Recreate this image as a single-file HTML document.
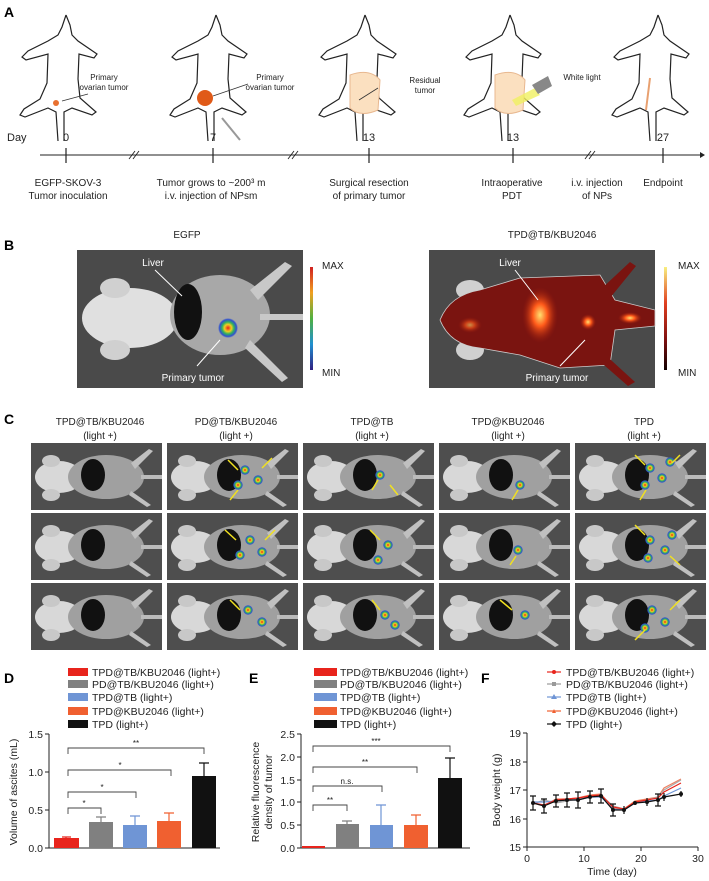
<!DOCTYPE html>
<html><head><meta charset="utf-8"><style>
html,body{margin:0;padding:0;background:#fff;}
svg{display:block;font-family:"Liberation Sans",Arial,sans-serif;}
</style></head><body>
<svg width="709" height="881" viewBox="0 0 709 881" xmlns="http://www.w3.org/2000/svg">
<defs>
<g id="mo" fill="none" stroke="#222" stroke-width="1.2">
<path d="M48 2 L44 14 L40 22 L30 28 L10 38 L4 44 L8 47 L30 41 L29 70 L22 86 L6 96 L2 102 L7 104 L30 95 L38 99 L40 128 M46 128 L46 99 L54 95 L74 102 L78 99 L62 85 L60 66 L61 41 L76 45 L79 41 L60 28 L54 22 L52 12 L48 2"/>
</g>
<radialGradient id="hot" cx="50%" cy="50%" r="50%"><stop offset="0" stop-color="#ffe070"/><stop offset="0.4" stop-color="#ff5a1a"/><stop offset="1" stop-color="#9a1a0c" stop-opacity="0"/></radialGradient>
<radialGradient id="tum" cx="50%" cy="50%" r="50%"><stop offset="0" stop-color="#e8201a"/><stop offset="0.35" stop-color="#f0d020"/><stop offset="0.6" stop-color="#30b060"/><stop offset="0.85" stop-color="#3050d0"/><stop offset="1" stop-color="#3050d0" stop-opacity="0"/></radialGradient>
<linearGradient id="cb1" x1="0" y1="0" x2="0" y2="1"><stop offset="0" stop-color="#d02020"/><stop offset="0.25" stop-color="#f0a020"/><stop offset="0.5" stop-color="#50b040"/><stop offset="0.75" stop-color="#2090d0"/><stop offset="1" stop-color="#302080"/></linearGradient>
<linearGradient id="cb2" x1="0" y1="0" x2="0" y2="1"><stop offset="0" stop-color="#f8f080"/><stop offset="0.35" stop-color="#e04020"/><stop offset="0.7" stop-color="#801010"/><stop offset="1" stop-color="#100000"/></linearGradient>
<g id="cm">
<rect x="0" y="0" width="131" height="67" fill="#4e4e4e"/>
<ellipse cx="28" cy="34" rx="24" ry="16" fill="#d8d8d8"/>
<ellipse cx="20" cy="18" rx="9" ry="6" fill="#c8c8c8"/>
<ellipse cx="20" cy="52" rx="9" ry="6" fill="#c8c8c8"/>
<ellipse cx="75" cy="34" rx="38" ry="22" fill="#a0a0a0"/>
<ellipse cx="62" cy="32" rx="12" ry="16" fill="#111"/>
<path d="M100 20 L118 6 L122 8 L104 26 Z M100 48 L120 62 L116 64 L98 52 Z" fill="#c0c0c0"/>
<rect x="110" y="32" width="21" height="4" fill="#bbb"/>
</g>
<g id="bl"><circle r="5" fill="url(#tum)"/></g>
</defs>

<!-- Panel A -->
<text x="4" y="17" font-size="14" font-weight="bold">A</text>
<use href="#mo" x="18" y="13"/>
<use href="#mo" x="168" y="13"/>
<use href="#mo" x="317" y="13"/>
<use href="#mo" x="462" y="13"/>
<use href="#mo" x="610" y="13"/>
<circle cx="56" cy="103" r="3" fill="#e87030"/>
<circle cx="205" cy="98" r="8" fill="#e05a18"/>
<path d="M350 75 Q370 68 380 80 L378 110 Q360 118 350 108 Z" fill="#fbe0c0" stroke="#e8b890"/>
<path d="M495 75 Q515 68 525 80 L523 110 Q505 118 495 108 Z" fill="#fbe0c0" stroke="#e8b890"/>
<path d="M512 100 L535 88 L540 95 L516 106 Z" fill="#f0f060" opacity="0.8"/>
<path d="M532 85 L548 76 L552 86 L538 94 Z" fill="#888"/>
<line x1="650" y1="78" x2="646" y2="110" stroke="#e8a070" stroke-width="2"/>
<line x1="62" y1="101" x2="88" y2="94" stroke="#333" stroke-width="0.8"/>
<line x1="213" y1="96" x2="248" y2="84" stroke="#333" stroke-width="0.8"/>
<line x1="359" y1="100" x2="378" y2="88" stroke="#333" stroke-width="0.8"/>
<path d="M222 118 L240 140" stroke="#999" stroke-width="2"/>
<g font-size="8" text-anchor="middle" fill="#222">
<text x="104" y="80">Primary</text><text x="104" y="90">ovarian tumor</text>
<text x="270" y="80">Primary</text><text x="270" y="90">ovarian tumor</text>
<text x="425" y="83">Residual</text><text x="425" y="93">tumor</text>
<text x="582" y="80">White light</text>
</g>
<g font-size="11" fill="#222">
<text x="7" y="141">Day</text>
<g text-anchor="middle"><text x="66" y="141">0</text><text x="213" y="141">7</text><text x="369" y="141">13</text><text x="513" y="141">13</text><text x="663" y="141">27</text></g>
</g>
<line x1="40" y1="155" x2="700" y2="155" stroke="#222" stroke-width="1"/>
<path d="M700 152 L705 155 L700 158 Z" fill="#222"/>
<g stroke="#222" stroke-width="1.2">
<line x1="66" y1="148" x2="66" y2="163"/><line x1="213" y1="148" x2="213" y2="163"/><line x1="369" y1="148" x2="369" y2="163"/><line x1="513" y1="148" x2="513" y2="163"/><line x1="663" y1="148" x2="663" y2="163"/>
<path d="M129 159 L135 151 M133 159 L139 151 M288 159 L294 151 M292 159 L298 151 M585 159 L591 151 M589 159 L595 151" stroke-width="0.9"/>
</g>
<g font-size="10" text-anchor="middle" fill="#222">
<text x="68" y="186">EGFP-SKOV-3</text><text x="68" y="199">Tumor inoculation</text>
<text x="211" y="186">Tumor grows to ~200³ m</text><text x="211" y="199">i.v. injection of NPsm</text>
<text x="369" y="186">Surgical resection</text><text x="369" y="199">of primary tumor</text>
<text x="512" y="186">Intraoperative</text><text x="512" y="199">PDT</text>
<text x="597" y="186">i.v. injection</text><text x="597" y="199">of NPs</text>
<text x="663" y="186">Endpoint</text>
</g>

<!-- Panel B -->
<text x="4" y="250" font-size="14" font-weight="bold">B</text>
<g font-size="10" text-anchor="middle" fill="#222"><text x="187" y="238">EGFP</text><text x="552" y="238">TPD@TB/KBU2046</text></g>
<rect x="77" y="250" width="226" height="138" fill="#4a4a4a"/>
<ellipse cx="130" cy="318" rx="48" ry="30" fill="#e0e0e0"/>
<ellipse cx="115" cy="288" rx="15" ry="10" fill="#d0d0d0"/>
<ellipse cx="115" cy="350" rx="15" ry="10" fill="#d0d0d0"/>
<ellipse cx="220" cy="315" rx="50" ry="40" fill="#a8a8a8"/>
<ellipse cx="188" cy="312" rx="14" ry="28" fill="#111"/>
<path d="M250 290 L285 262 L292 266 L258 300 Z M250 340 L288 378 L282 382 L245 348 Z" fill="#c8c8c8"/>
<rect x="260" y="314" width="43" height="6" fill="#c8c8c8"/>
<circle cx="228" cy="328" r="10" fill="url(#tum)"/>
<line x1="155" y1="270" x2="182" y2="296" stroke="#fff" stroke-width="1"/>
<line x1="197" y1="366" x2="220" y2="340" stroke="#fff" stroke-width="1"/>
<g font-size="10" fill="#fff" text-anchor="middle"><text x="153" y="266">Liver</text><text x="193" y="381">Primary tumor</text></g>
<rect x="310" y="267" width="3" height="103" fill="url(#cb1)"/>
<g font-size="10" fill="#222"><text x="322" y="269">MAX</text><text x="322" y="376">MIN</text><text x="678" y="269">MAX</text><text x="678" y="376">MIN</text></g>
<rect x="429" y="250" width="226" height="138" fill="#4a4a4a"/>
<ellipse cx="470" cy="290" rx="14" ry="10" fill="#d0d0d0"/>
<ellipse cx="470" cy="350" rx="14" ry="10" fill="#d0d0d0"/>
<path d="M440 320 Q450 295 480 290 L520 278 L600 275 L615 300 L655 310 L655 326 L615 330 L610 365 L560 368 L520 355 L480 348 Q450 345 440 320 Z" fill="#7a1410" stroke="#ccc" stroke-width="0.8"/>
<path d="M600 290 L630 262 L636 266 L610 298 Z M600 350 L635 382 L628 386 L596 358 Z" fill="#7a1410"/>
<ellipse cx="540" cy="315" rx="18" ry="28" fill="url(#hot)"/>
<ellipse cx="588" cy="322" rx="8" ry="8" fill="url(#hot)"/>
<ellipse cx="630" cy="318" rx="12" ry="6" fill="url(#hot)"/>
<ellipse cx="470" cy="325" rx="12" ry="8" fill="url(#hot)" opacity="0.6"/>
<line x1="515" y1="270" x2="538" y2="300" stroke="#fff" stroke-width="1"/>
<line x1="560" y1="366" x2="585" y2="340" stroke="#fff" stroke-width="1"/>
<g font-size="10" fill="#fff" text-anchor="middle"><text x="510" y="266">Liver</text><text x="557" y="381">Primary tumor</text></g>
<rect x="664" y="267" width="3" height="103" fill="url(#cb2)"/>

<!-- Panel C -->
<text x="4" y="424" font-size="14" font-weight="bold">C</text>
<g font-size="10" text-anchor="middle" fill="#222">
<text x="100" y="425">TPD@TB/KBU2046</text><text x="100" y="439">(light +)</text>
<text x="236" y="425">PD@TB/KBU2046</text><text x="236" y="439">(light +)</text>
<text x="372" y="425">TPD@TB</text><text x="372" y="439">(light +)</text>
<text x="508" y="425">TPD@KBU2046</text><text x="508" y="439">(light +)</text>
<text x="644" y="425">TPD</text><text x="644" y="439">(light +)</text>
</g>
<g>
<use href="#cm" x="31" y="443"/><use href="#cm" x="167" y="443"/><use href="#cm" x="303" y="443"/><use href="#cm" x="439" y="443"/><use href="#cm" x="575" y="443"/>
<use href="#cm" x="31" y="513"/><use href="#cm" x="167" y="513"/><use href="#cm" x="303" y="513"/><use href="#cm" x="439" y="513"/><use href="#cm" x="575" y="513"/>
<use href="#cm" x="31" y="583"/><use href="#cm" x="167" y="583"/><use href="#cm" x="303" y="583"/><use href="#cm" x="439" y="583"/><use href="#cm" x="575" y="583"/>
</g>
<g>
<use href="#bl" x="245" y="470"/><use href="#bl" x="258" y="480"/><use href="#bl" x="238" y="485"/>
<use href="#bl" x="250" y="540"/><use href="#bl" x="262" y="552"/><use href="#bl" x="240" y="555"/>
<use href="#bl" x="248" y="610"/><use href="#bl" x="262" y="622"/>
<use href="#bl" x="380" y="475"/><use href="#bl" x="388" y="545"/><use href="#bl" x="378" y="560"/><use href="#bl" x="385" y="615"/><use href="#bl" x="395" y="625"/>
<use href="#bl" x="520" y="485"/><use href="#bl" x="518" y="550"/><use href="#bl" x="525" y="615"/>
<use href="#bl" x="650" y="468"/><use href="#bl" x="662" y="478"/><use href="#bl" x="645" y="485"/><use href="#bl" x="670" y="462"/>
<use href="#bl" x="650" y="540"/><use href="#bl" x="665" y="550"/><use href="#bl" x="648" y="558"/><use href="#bl" x="672" y="535"/>
<use href="#bl" x="652" y="610"/><use href="#bl" x="665" y="622"/><use href="#bl" x="645" y="628"/>
</g>
<g stroke="#f0e020" stroke-width="1.5">
<path d="M228 460 L238 470 M272 458 L262 468 M230 500 L238 490 M372 490 L378 480 M398 495 L390 485 M512 500 L518 490 M635 455 L645 465 M680 455 L672 463 M640 500 L646 490 M225 530 L236 540 M275 530 L265 540 M370 530 L380 540 M510 565 L516 556 M635 525 L645 535 M680 565 L670 556 M230 600 L240 610 M372 600 L380 610 M500 600 L512 610 M635 640 L645 630 M680 600 L670 610"/>
</g>

<!-- Panel D -->
<text x="4" y="683" font-size="14" font-weight="bold">D</text>
<g font-size="10.5" fill="#222">
<rect x="68" y="668" width="20" height="8" fill="#e8241c"/><text x="92" y="676">TPD@TB/KBU2046 (light+)</text>
<rect x="68" y="680" width="20" height="8" fill="#808080"/><text x="92" y="688">PD@TB/KBU2046 (light+)</text>
<rect x="68" y="693" width="20" height="8" fill="#6f95d5"/><text x="92" y="701">TPD@TB (light+)</text>
<rect x="68" y="707" width="20" height="8" fill="#f06030"/><text x="92" y="715">TPD@KBU2046 (light+)</text>
<rect x="68" y="720" width="20" height="8" fill="#111"/><text x="92" y="728">TPD (light+)</text>
</g>
<g stroke="#222" stroke-width="1" fill="none">
<path d="M49 734 L49 848 L220 848 M45 734 L49 734 M45 772 L49 772 M45 810 L49 810 M45 848 L49 848"/>
</g>
<g font-size="10.5" fill="#222" text-anchor="end"><text x="43" y="738">1.5</text><text x="43" y="776">1.0</text><text x="43" y="814">0.5</text><text x="43" y="852">0.0</text></g>
<text transform="translate(17,792) rotate(-90)" font-size="10.5" text-anchor="middle" fill="#222">Volume of ascites (mL)</text>
<rect x="54" y="838" width="25" height="10" fill="#e8241c"/>
<rect x="89" y="822" width="24" height="26" fill="#808080"/>
<rect x="123" y="825" width="24" height="23" fill="#6f95d5"/>
<rect x="157" y="821" width="24" height="27" fill="#f06030"/>
<rect x="192" y="776" width="24" height="72" fill="#111"/>
<g stroke-width="1.2" fill="none">
<path d="M66 838 V837 M62 837 H71" stroke="#e8241c"/>
<path d="M101 822 V817 M96 817 H106" stroke="#808080"/>
<path d="M135 825 V816 M130 816 H140" stroke="#6f95d5"/>
<path d="M169 821 V813 M164 813 H174" stroke="#f06030"/>
<path d="M204 776 V763 M199 763 H209" stroke="#111"/>
</g>
<g stroke="#444" stroke-width="0.9" fill="none">
<path d="M68 754 V748 H204 V754"/><path d="M68 776 V770 H171 V776"/><path d="M68 798 V792 H136 V798"/><path d="M68 814 V808 H101 V814"/>
</g>
<g font-size="8" fill="#222" text-anchor="middle"><text x="136" y="746">**</text><text x="120" y="768">*</text><text x="102" y="790">*</text><text x="84" y="806">*</text></g>

<!-- Panel E -->
<text x="249" y="683" font-size="14" font-weight="bold">E</text>
<g font-size="10.5" fill="#222">
<rect x="314" y="668" width="23" height="8" fill="#e8241c"/><text x="340" y="676">TPD@TB/KBU2046 (light+)</text>
<rect x="314" y="680" width="23" height="8" fill="#808080"/><text x="340" y="688">PD@TB/KBU2046 (light+)</text>
<rect x="314" y="693" width="23" height="8" fill="#6f95d5"/><text x="340" y="701">TPD@TB (light+)</text>
<rect x="314" y="707" width="23" height="8" fill="#f06030"/><text x="340" y="715">TPD@KBU2046 (light+)</text>
<rect x="314" y="720" width="23" height="8" fill="#111"/><text x="340" y="728">TPD (light+)</text>
</g>
<g stroke="#222" stroke-width="1" fill="none">
<path d="M301 734 L301 848 L470 848 M297 734 L301 734 M297 757 L301 757 M297 780 L301 780 M297 802 L301 802 M297 825 L301 825 M297 848 L301 848"/>
</g>
<g font-size="10.5" fill="#222" text-anchor="end"><text x="295" y="738">2.5</text><text x="295" y="761">2.0</text><text x="295" y="784">1.5</text><text x="295" y="806">1.0</text><text x="295" y="829">0.5</text><text x="295" y="852">0.0</text></g>
<text transform="translate(259,792) rotate(-90)" font-size="10.5" text-anchor="middle" fill="#222">Relative fluorescence</text>
<text transform="translate(272,792) rotate(-90)" font-size="10.5" text-anchor="middle" fill="#222">density of tumor</text>
<rect x="302" y="846" width="23" height="2" fill="#e8241c"/>
<rect x="336" y="824" width="23" height="24" fill="#808080"/>
<rect x="370" y="825" width="23" height="23" fill="#6f95d5"/>
<rect x="404" y="825" width="24" height="23" fill="#f06030"/>
<rect x="438" y="778" width="24" height="70" fill="#111"/>
<g stroke-width="1.2" fill="none">
<path d="M347 824 V821 M342 821 H352" stroke="#808080"/>
<path d="M381 825 V805 M376 805 H386" stroke="#6f95d5"/>
<path d="M416 825 V815 M411 815 H421" stroke="#f06030"/>
<path d="M450 778 V758 M445 758 H455" stroke="#111"/>
</g>
<g stroke="#444" stroke-width="0.9" fill="none">
<path d="M313 752 V746 H450 V752"/><path d="M313 773 V767 H417 V773"/><path d="M313 792 V786 H382 V792"/><path d="M313 811 V805 H347 V811"/>
</g>
<g font-size="8" fill="#222" text-anchor="middle"><text x="376" y="744">***</text><text x="365" y="765">**</text><text x="347" y="784">n.s.</text><text x="330" y="803">**</text></g>

<!-- Panel F -->
<text x="481" y="683" font-size="14" font-weight="bold">F</text>
<g font-size="10.5" fill="#222">
<line x1="547" y1="672" x2="561" y2="672" stroke="#e8241c" stroke-width="1.2"/><circle cx="554" cy="672" r="2" fill="#e8241c"/><text x="566" y="676">TPD@TB/KBU2046 (light+)</text>
<line x1="547" y1="684" x2="561" y2="684" stroke="#999" stroke-width="1.2"/><rect x="552" y="682" width="4" height="4" fill="#999"/><text x="566" y="688">PD@TB/KBU2046 (light+)</text>
<line x1="547" y1="697" x2="561" y2="697" stroke="#6f95d5" stroke-width="1.2"/><path d="M554 694 L557 699 L551 699 Z" fill="#6f95d5"/><text x="566" y="701">TPD@TB (light+)</text>
<line x1="547" y1="711" x2="561" y2="711" stroke="#f06030" stroke-width="1.2"/><path d="M554 709 L556 713 L552 713 Z" fill="#f06030"/><text x="566" y="715">TPD@KBU2046 (light+)</text>
<line x1="547" y1="724" x2="561" y2="724" stroke="#111" stroke-width="1.2"/><path d="M554 721 L557 724 L554 727 L551 724 Z" fill="#111"/><text x="566" y="728">TPD (light+)</text>
</g>
<g stroke="#222" stroke-width="1" fill="none">
<path d="M527 733 L527 847 L698 847 M523 733 L527 733 M523 762 L527 762 M523 790 L527 790 M523 819 L527 819 M523 847 L527 847 M527 847 V851 M584 847 V851 M641 847 V851 M698 847 V851"/>
</g>
<g font-size="10.5" fill="#222" text-anchor="end"><text x="521" y="737">19</text><text x="521" y="766">18</text><text x="521" y="794">17</text><text x="521" y="823">16</text><text x="521" y="851">15</text></g>
<g font-size="10.5" fill="#222" text-anchor="middle"><text x="527" y="862">0</text><text x="584" y="862">10</text><text x="641" y="862">20</text><text x="698" y="862">30</text><text x="612" y="875">Time (day)</text></g>
<text transform="translate(500,790) rotate(-90)" font-size="10.5" text-anchor="middle" fill="#222">Body weight (g)</text>
<g fill="none" stroke-width="1.2">
<polyline stroke="#f08060" points="533,803 544,806 556,799 567,799 578,798 590,795 601,794 613,808 624,809 635,801 647,799 658,797 664,788 681,779"/>
<polyline stroke="#aaa" points="533,804 544,800 556,803 567,801 578,799 590,797 601,795 613,806 624,809 635,803 647,800 658,797 664,790 681,780"/>
<polyline stroke="#6f95d5" points="533,802 544,802 556,801 567,800 578,800 590,797 601,797 613,809 624,810 635,803 647,801 658,800 664,796 681,788"/>
<polyline stroke="#e8241c" points="533,803 544,805 556,800 567,799 578,798 590,796 601,795 613,807 624,809 635,802 647,800 658,798 664,792 681,783"/>
<polyline stroke="#111" points="533,803 544,806 556,801 567,800 578,800 590,797 601,796 613,810 624,810 635,803 647,802 658,800 664,797 681,794"/>
</g>
<g stroke="#111" stroke-width="1.2">
<path d="M533 796 V810 M530 796 H536 M530 810 H536 M544 799 V813 M541 799 H547 M541 813 H547 M556 795 V807 M553 795 H559 M553 807 H559 M567 793 V807 M564 793 H570 M564 807 H570 M578 792 V808 M575 792 H581 M575 808 H581 M590 791 V803 M587 791 H593 M587 803 H593 M601 789 V803 M598 789 H604 M598 803 H604 M613 804 V816 M610 804 H616 M610 816 H616 M624 806 V814 M647 798 V806 M658 794 V806 M655 794 H661 M655 806 H661 M664 793 V801 M681 791 V797"/>
</g>
<g fill="#111"><circle cx="533" cy="803" r="2"/><circle cx="544" cy="806" r="2"/><circle cx="556" cy="801" r="2"/><circle cx="567" cy="800" r="2"/><circle cx="578" cy="800" r="2"/><circle cx="590" cy="797" r="2"/><circle cx="601" cy="796" r="2"/><circle cx="613" cy="810" r="2"/><circle cx="624" cy="810" r="2"/><circle cx="635" cy="803" r="2"/><circle cx="647" cy="802" r="2"/><circle cx="658" cy="800" r="2"/><circle cx="664" cy="797" r="2"/><circle cx="681" cy="794" r="2"/></g>
</svg>
</body></html>
